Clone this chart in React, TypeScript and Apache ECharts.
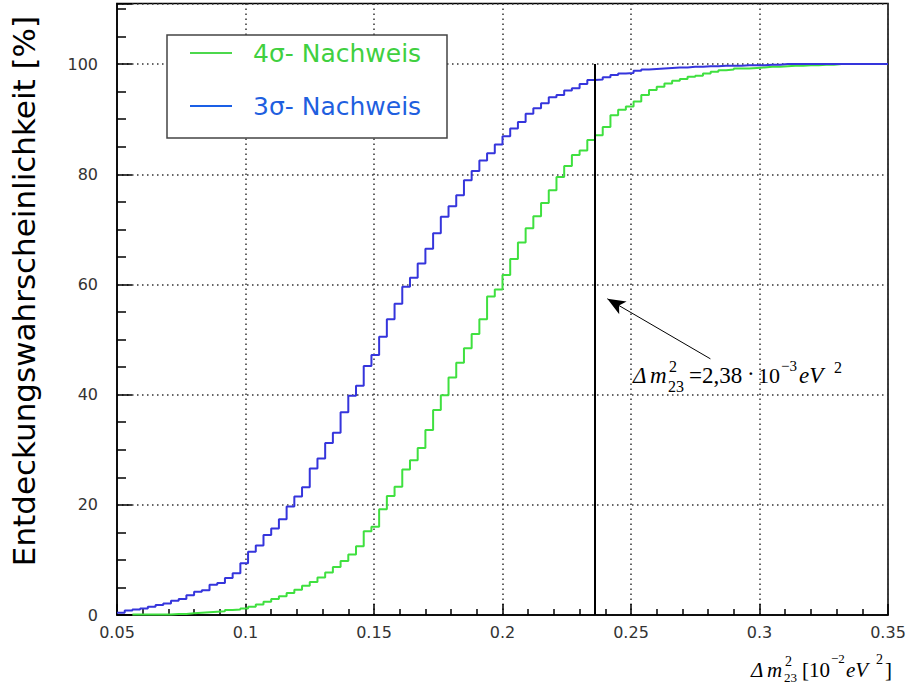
import React, { useEffect, useRef } from "react";
import * as echarts from "echarts";

// Histogram binning (x in 10^-2 eV^2)
const BIN_START = 0.05;
const BIN_WIDTH = 0.003;

// Cumulative detection probability per bin [%]
const sigma3Values = [
  0.4, 0.8, 1.0, 1.2, 1.5, 1.8, 2.1, 2.6, 2.9, 3.6,
  4.2, 4.5, 5.5, 5.8, 6.7, 7.6, 9.4, 11.5, 12.6, 14.5,
  15.7, 17.4, 19.7, 21.5, 23.2, 26.6, 28.4, 31.2, 33.1, 36.8,
  39.8, 41.6, 45.2, 47.2, 50.5, 53.7, 56.5, 59.6, 61.2, 63.8,
  66.5, 69.3, 72.3, 74.2, 76.2, 78.9, 80.6, 82.5, 83.8, 85.4,
  86.9, 88.3, 89.5, 91.0, 92.0, 92.9, 94.0, 94.4, 95.2, 95.6,
  96.4, 97.1, 97.2, 97.6, 98.0, 98.3, 98.4, 98.8, 99.0, 99.1,
  99.2, 99.3, 99.4, 99.4, 99.5, 99.5, 99.6, 99.6, 99.7, 99.7,
  99.7, 99.8, 99.8, 99.8, 99.9, 99.9, 100, 100, 100, 100,
  100, 100, 100, 100, 100, 100, 100, 100, 100, 100,
];

const sigma4Values = [
  null, null, 0.1, 0.1, 0.1, 0.1, 0.1, 0.2, 0.2, 0.3,
  0.4, 0.5, 0.6, 0.7, 0.9, 1.0, 1.2, 1.5, 1.9, 2.4,
  2.9, 3.4, 4.0, 4.6, 5.3, 6.0, 6.8, 7.7, 8.7, 9.8,
  11.0, 12.5, 15.2, 16.0, 19.2, 21.6, 23.3, 26.4, 28.1, 30.3,
  33.6, 37.2, 39.9, 43.1, 45.8, 48.4, 51.0, 53.7, 57.8, 59.1,
  61.7, 64.6, 67.6, 70.2, 72.4, 74.8, 77.1, 79.5, 81.5, 83.5,
  84.3, 86.2, 87.1, 88.6, 90.7, 91.7, 92.3, 93.2, 94.4, 95.3,
  95.9, 96.5, 97.0, 97.3, 97.7, 97.9, 98.3, 98.6, 98.9, 99.0,
  99.2, 99.2, 99.3, 99.4, 99.5, 99.5, 99.6, 99.7, 99.7, 99.8,
  99.8, 99.9, 99.9, 100, 100, 100, 100, 100, 100, 100,
];

const SERIES_NAMES = ["4σ- Nachweis", "3σ- Nachweis"];
const MARKER_X = 0.236; // Δm²23 = 2.38e-3 eV²
const ARROW_FROM = [0.2809, 46.5];
const ARROW_TO = [0.2408, 57.4];

function toSteps(values: (number | null)[]) {
  const pts: any[] = values.map((v, i) => [BIN_START + i * BIN_WIDTH, v]);
  pts.push([BIN_START + values.length * BIN_WIDTH, values[values.length - 1]]);
  return pts;
}

const SERIF = "Liberation Serif";

function txt(text: string, x: number, y: number, size: number, italic = false) {
  return {
    type: "text",
    x,
    y,
    z: 10,
    style: {
      text,
      fontFamily: SERIF,
      fontSize: size,
      fontStyle: italic ? "italic" : "normal",
      fill: "#000",
      align: "left",
      verticalAlign: "middle",
    },
  };
}

export default function App() {
  const ref = useRef<HTMLDivElement>(null);
  useEffect(() => {
    if (!ref.current) return;
    const chart = echarts.init(ref.current, null, { renderer: "svg" });
    const tickFont = { color: "#333", fontSize: 16, fontFamily: "DejaVu Sans" };
    const gridDots = { color: "#333", type: [1.5, 3.5], width: 1.5 };
    chart.setOption({
      animation: false,
      backgroundColor: "#fff",
      grid: {
        left: 117,
        right: 21,
        top: 3.5,
        bottom: 69,
        show: true,
        borderColor: "#000",
        borderWidth: 1.5,
      },
      legend: {
        orient: "vertical",
        left: 190,
        top: 40,
        padding: 0,
        icon: "rect",
        itemWidth: 42,
        itemHeight: 2,
        itemGap: 27,
        z: 6,
        selectedMode: false,
        textStyle: {
          fontFamily: "DejaVu Sans",
          fontSize: 25,
          lineHeight: 26,
          padding: [0, 0, 0, 16],
        },
        data: [
          {
            name: SERIES_NAMES[0],
            textStyle: { color: "#40d040" },
            itemStyle: { color: "#4cd84c" },
          },
          {
            name: SERIES_NAMES[1],
            textStyle: { color: "#1f5fdf" },
            itemStyle: { color: "#1a5fe6" },
          },
        ],
      },
      xAxis: {
        type: "value",
        min: 0.05,
        max: 0.35,
        interval: 0.05,
        axisLine: { show: true, onZero: false, lineStyle: { color: "#000", width: 1.5 } },
        axisTick: { show: true, inside: true, length: 11, lineStyle: { color: "#000", width: 1.5 } },
        minorTick: { show: true, splitNumber: 5, length: 6, lineStyle: { color: "#000", width: 1.5 } },
        splitLine: { show: true, lineStyle: gridDots },
        axisLabel: { ...tickFont, margin: 9 },
      },
      yAxis: {
        type: "value",
        min: 0,
        max: 111,
        interval: 20,
        axisLine: { show: true, onZero: false, lineStyle: { color: "#000", width: 1.5 } },
        axisTick: { show: true, inside: true, length: 15, lineStyle: { color: "#000", width: 1.5 } },
        minorTick: { show: true, splitNumber: 4, length: 9, lineStyle: { color: "#000", width: 1.5 } },
        splitLine: { show: true, lineStyle: gridDots },
        axisLabel: { ...tickFont, margin: 19, showMaxLabel: false },
      },
      series: [
        {
          type: "line",
          name: SERIES_NAMES[0],
          data: toSteps(sigma4Values),
          step: "end",
          symbol: "none",
          z: 3,
          lineStyle: { color: "#3fe03f", width: 2 },
          itemStyle: { color: "#3fe03f" },
        },
        {
          type: "line",
          name: SERIES_NAMES[1],
          data: toSteps(sigma3Values),
          step: "end",
          symbol: "none",
          z: 3,
          lineStyle: { color: "#3535dc", width: 2 },
          itemStyle: { color: "#3535dc" },
          markLine: {
            silent: true,
            animation: false,
            label: { show: false },
            data: [
              [
                { coord: [MARKER_X, 0], symbol: "none", lineStyle: { color: "#000", width: 2, type: "solid" } },
                { coord: [MARKER_X, 100], symbol: "none" },
              ],
              [
                { coord: ARROW_FROM, symbol: "none", lineStyle: { color: "#000", width: 1, type: "solid" } },
                { coord: ARROW_TO, symbol: "arrow", symbolSize: [11, 18] },
              ],
            ],
          },
        },
      ],
      graphic: [
        {
          type: "rect",
          z: 5,
          shape: { x: 167, y: 35, width: 280, height: 103 },
          style: { fill: "#fff", stroke: "#444", lineWidth: 1.5 },
        },
        {
          type: "text",
          x: 24,
          y: 291,
          rotation: Math.PI / 2,
          z: 10,
          style: {
            text: "Entdeckungswahrscheinlichkeit [%]",
            fontFamily: "DejaVu Sans",
            fontSize: 31,
            fill: "#000",
            align: "center",
            verticalAlign: "middle",
          },
        },
        // annotation Δm²23 = 2,38 · 10^-3 eV²
        txt("Δ", 633, 375, 23, true),
        txt("m", 650, 375, 23, true),
        txt("2", 669, 366, 16),
        txt("23", 668, 386, 16),
        txt("=2,38", 689, 375, 23),
        txt("·", 747, 373, 23),
        txt("10", 758, 375, 22),
        txt("−3", 781, 366, 15),
        txt("eV", 799, 375, 23, true),
        txt("2", 834, 367, 16),
        // x-axis title Δm²23 [10^-2 eV²]
        txt("Δ", 751, 670, 21, true),
        txt("m", 767, 670, 21, true),
        txt("2", 785, 661, 14),
        txt("23", 784, 677, 13),
        txt("[10", 802, 670, 21),
        txt("−2", 831, 658, 13),
        txt("eV", 846, 670, 21, true),
        txt("2", 876, 659, 14),
        txt("]", 885, 670, 21),
      ],
    });
    return () => chart.dispose();
  }, []);
  return (
    <div
      ref={ref}
      style={{ position: "fixed", left: 0, top: 0, width: 909, height: 684, background: "#fff" }}
    />
  );
}
